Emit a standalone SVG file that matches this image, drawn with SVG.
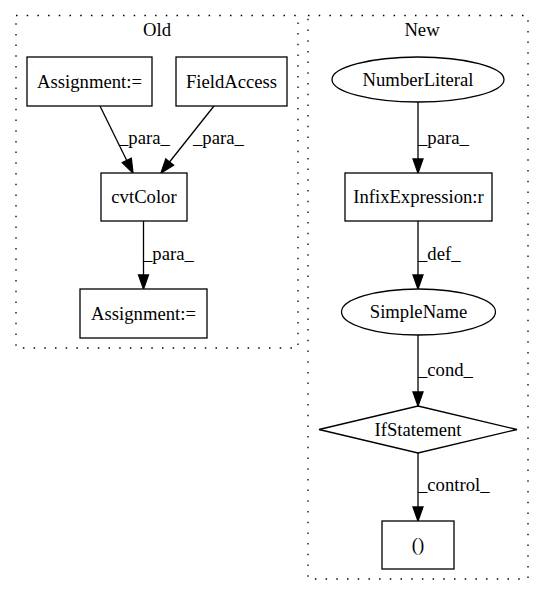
<svg xmlns="http://www.w3.org/2000/svg" width="544" height="596" viewBox="0 0 544 596">
<style>
text{font-family:"Liberation Serif","Times New Roman",serif;font-size:18.67px;fill:#000}
.c{text-anchor:middle}
.n{fill:#fff;stroke:#000;stroke-width:1.3}
.cl{fill:none;stroke:#000;stroke-width:1.3;stroke-dasharray:1.5,9.2}
.e{fill:none;stroke:#000;stroke-width:1.3}
.h{fill:#000;stroke:#000;stroke-width:1.3}
</style>
<rect width="544" height="596" fill="#fff"/>
<g id="cluster_old">
<rect class="cl" x="16" y="15.5" width="282" height="332.5"/>
<text class="c" x="157" y="36">Old</text>
</g>
<g id="cluster_new">
<rect class="cl" x="308" y="15.5" width="220" height="563.5"/>
<text class="c" x="422" y="36">New</text>
</g>
<g id="edges">
<path class="e" d="M100,106 L127,161"/>
<polygon class="h" points="122.3,162.6 131.3,158.2 133,173"/>
<text x="119" y="144">_para_</text>
<path class="e" d="M214,106 L169.5,162"/>
<polygon class="h" points="165.8,158.9 173.6,165.1 161,173"/>
<text x="193" y="144">_para_</text>
<path class="e" d="M143.5,221 L143.5,275"/>
<polygon class="h" points="138.5,275 148.5,275 143.5,289"/>
<text x="143" y="260">_para_</text>
<path class="e" d="M418,102 L418,159"/>
<polygon class="h" points="413,159 423,159 418,173"/>
<text x="418" y="144">_para_</text>
<path class="e" d="M418,221 L418,275"/>
<polygon class="h" points="413,275 423,275 418,289"/>
<text x="418" y="260">_def_</text>
<path class="e" d="M418,335 L418,392"/>
<polygon class="h" points="413,392 423,392 418,406"/>
<text x="418" y="376">_cond_</text>
<path class="e" d="M418,453 L418,507"/>
<polygon class="h" points="413,507 423,507 418,521"/>
<text x="418" y="491">_control_</text>
</g>
<g id="assign1">
<rect class="n" x="27" y="57" width="125" height="49"/>
<text class="c" x="89.5" y="87.5">Assignment:=</text>
</g>
<g id="fieldaccess">
<rect class="n" x="176" y="57" width="111" height="49"/>
<text class="c" x="231.5" y="87.5">FieldAccess</text>
</g>
<g id="cvtcolor">
<rect class="n" x="101" y="173" width="86" height="48"/>
<text class="c" x="144" y="203">cvtColor</text>
</g>
<g id="assign2">
<rect class="n" x="80" y="289" width="127" height="49"/>
<text class="c" x="143.5" y="320">Assignment:=</text>
</g>
<g id="numberliteral">
<ellipse class="n" cx="418" cy="79.5" rx="86" ry="22.5"/>
<text class="c" x="418" y="86">NumberLiteral</text>
</g>
<g id="infix">
<rect class="n" x="345" y="173" width="147" height="48"/>
<text class="c" x="418.5" y="203">InfixExpression:r</text>
</g>
<g id="simplename">
<ellipse class="n" cx="418.5" cy="312" rx="77" ry="23"/>
<text class="c" x="418.5" y="318">SimpleName</text>
</g>
<g id="ifstatement">
<polygon class="n" points="418,406 517,429.5 418,453 319,429.5"/>
<text class="c" x="418" y="436">IfStatement</text>
</g>
<g id="paren">
<rect class="n" x="382" y="521" width="72" height="48"/>
<text class="c" x="418" y="551">()</text>
</g>
</svg>
